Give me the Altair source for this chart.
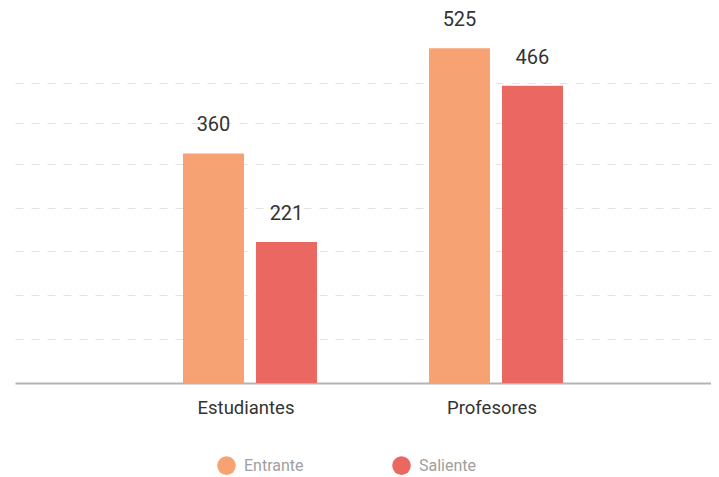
import altair as alt
import pandas as pd

categories = ["Estudiantes", "Profesores"]
series = ["Entrante", "Saliente"]
entrante = [360, 525]
saliente = [221, 466]
colors = ["#F6A273", "#EA6762"]
grid_values = [68.5, 137.4, 206.4, 274.7, 343.2, 407.4, 470.6]

rows = []
for i, c in enumerate(categories):
    rows.append({"cat": c, "serie": series[0], "valor": entrante[i]})
    rows.append({"cat": c, "serie": series[1], "valor": saliente[i]})
df = pd.DataFrame(rows)

FONT = "Roboto"

x_enc = alt.X(
    "cat:N",
    sort=categories,
    title=None,
    scale=alt.Scale(paddingInner=0.4553, paddingOuter=0.6423, align=0.5316),
    axis=alt.Axis(
        labelFont=FONT, labelFontSize=18.5, labelColor="#333333", labelPadding=15,
        labelOffset=-4, ticks=False, domainColor="#b4b4b4", domainWidth=2,
        labelAngle=0, grid=False,
    ),
)
xoff = alt.XOffset("serie:N", sort=series, scale=alt.Scale(paddingInner=0.1644, paddingOuter=0))
y_enc = alt.Y(
    "valor:Q",
    title=None,
    scale=alt.Scale(domain=[0, 588], nice=False),
    axis=alt.Axis(
        values=grid_values, labels=False, ticks=False, domain=False, grid=True,
        gridColor="#e3e3e3", gridDash=[8, 8], gridWidth=1,
    ),
)

bars = alt.Chart(df).mark_bar().encode(
    x=x_enc,
    xOffset=xoff,
    y=y_enc,
    color=alt.Color(
        "serie:N",
        sort=series,
        scale=alt.Scale(domain=series, range=colors),
        legend=alt.Legend(
            title=None, orient="none", legendX=202, legendY=448, direction="horizontal",
            symbolType="circle", symbolSize=346, symbolStrokeWidth=0, labelFont=FONT,
            labelFontSize=16, labelColor="#a0a0a0", labelOffset=8, columnPadding=88,
            padding=0,
        ),
    ),
)

labels = alt.Chart(df).mark_text(
    font=FONT, fontSize=20, color="#333333", baseline="alphabetic", dy=-22
).encode(
    x=alt.X("cat:N", sort=categories),
    xOffset=alt.XOffset("serie:N", sort=series),
    y=alt.Y("valor:Q"),
    text=alt.Text("valor:Q"),
)

chart = (
    alt.layer(bars, labels)
    .properties(
        width=696, height=375,
        autosize=alt.AutoSizeParams(type="none"),
        padding={"left": 7, "top": 0, "right": 0, "bottom": 100},
    )
    .configure_view(stroke=None)
    .configure_axis(labelFont=FONT)
)

chart.save("out.html", embed_options={"renderer": "svg", "actions": False})
